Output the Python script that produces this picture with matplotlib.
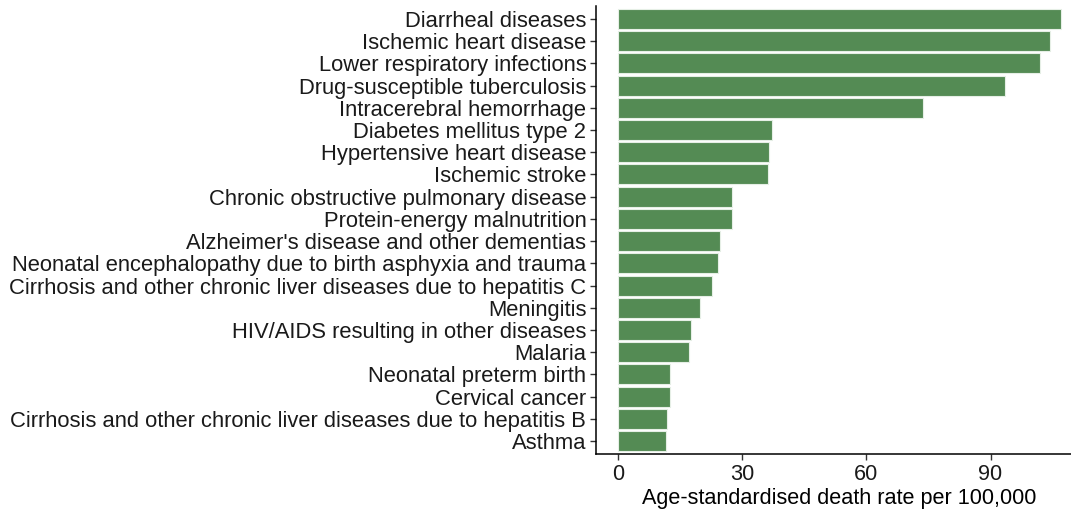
import matplotlib
matplotlib.use("Agg")
import matplotlib.pyplot as plt

plt.rcParams['font.family'] = ['Liberation Sans', 'DejaVu Sans']

causes = [
    "Diarrheal diseases",
    "Ischemic heart disease",
    "Lower respiratory infections",
    "Drug-susceptible tuberculosis",
    "Intracerebral hemorrhage",
    "Diabetes mellitus type 2",
    "Hypertensive heart disease",
    "Ischemic stroke",
    "Chronic obstructive pulmonary disease",
    "Protein-energy malnutrition",
    "Alzheimer's disease and other dementias",
    "Neonatal encephalopathy due to birth asphyxia and trauma",
    "Cirrhosis and other chronic liver diseases due to hepatitis C",
    "Meningitis",
    "HIV/AIDS resulting in other diseases",
    "Malaria",
    "Neonatal preterm birth",
    "Cervical cancer",
    "Cirrhosis and other chronic liver diseases due to hepatitis B",
    "Asthma",
]
death_rates = [107.0, 104.3, 102.0, 93.4, 73.8, 37.3, 36.5, 36.2, 27.6, 27.6,
               24.6, 24.2, 22.6, 19.9, 17.6, 17.2, 12.6, 12.6, 11.9, 11.6]
xticks = [0, 30, 60, 90]
xlabel = "Age-standardised death rate per 100,000"

W, H = 1071, 514
fig = plt.figure(figsize=(W / 100, H / 100), dpi=100)
left_px, right_px, top_px, bottom_px = 596, 1083, 5.7, 454.3
ax = fig.add_axes([left_px / W, 1 - bottom_px / H,
                   (right_px - left_px) / W, (bottom_px - top_px) / H])

n = len(causes)
ypos = list(range(n))[::-1]
ax.barh(ypos, death_rates, height=0.9, color="#548B54",
        edgecolor="#e6efe6", linewidth=0.8)

vmax = max(death_rates)
ax.set_xlim(-0.05 * vmax, 1.05 * vmax)
ax.set_ylim(-0.6, n - 1 + 0.6)
ax.set_yticks(ypos)
ax.set_yticklabels(causes, fontsize=15.8, color="#1a1a1a")
ax.set_xticks(xticks)
ax.set_xticklabels([str(t) for t in xticks], fontsize=15.7, color="#1a1a1a")
ax.set_xlabel(xlabel, fontsize=15.6, color="black", labelpad=2)

for s in ["top", "right"]:
    ax.spines[s].set_visible(False)
for s in ["left", "bottom"]:
    ax.spines[s].set_linewidth(1.1)
    ax.spines[s].set_color("black")
ax.tick_params(axis="both", length=4, width=1.0, color="#333333", pad=3)

fig.savefig("out.png", dpi=100)
